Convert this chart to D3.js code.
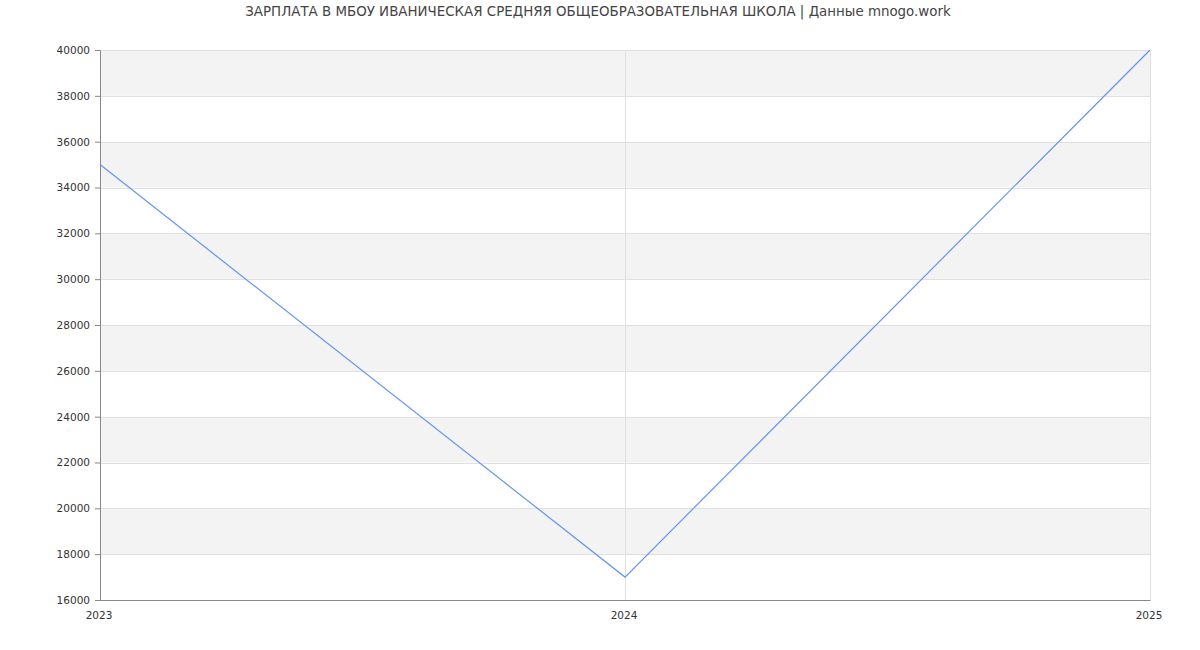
<!DOCTYPE html>
<html><head><meta charset="utf-8">
<script src="https://cdn.jsdelivr.net/npm/d3@7"></script>
<style>body{margin:0;background:#fff;}svg{display:block;font-family:"DejaVu Sans",sans-serif;}</style>
</head><body><svg id="c" width="1200" height="650"></svg>
<script>
const title = "ЗАРПЛАТА В МБОУ ИВАНИЧЕСКАЯ СРЕДНЯЯ ОБЩЕОБРАЗОВАТЕЛЬНАЯ ШКОЛА | Данные mnogo.work";
const years = [2023, 2024, 2025];
const salaries = [35000, 17000, 40000];
const yTicks = [16000,18000,20000,22000,24000,26000,28000,30000,32000,34000,36000,38000,40000];

const svg = d3.select("#c");
const m = {l:100, r:1150, t:50, b:600};
const x = d3.scaleLinear().domain([2023,2025]).range([m.l, m.r]);
const y = d3.scaleLinear().domain([16000,40000]).range([m.b, m.t]);

// bands
for (let i = 0; i < yTicks.length - 1; i++) {
  const lo = yTicks[i], hi = yTicks[i+1];
  const idxFromTop = yTicks.length - 2 - i;
  svg.append("rect").attr("x", m.l).attr("width", m.r - m.l)
    .attr("y", y(hi)).attr("height", y(lo) - y(hi))
    .attr("fill", idxFromTop % 2 === 0 ? "#f3f3f3" : "#ffffff");
}
// horizontal grid
svg.append("g").selectAll("line").data(yTicks).join("line")
  .attr("x1", m.l).attr("x2", m.r).attr("y1", d => Math.round(y(d)) + 0.5).attr("y2", d => Math.round(y(d)) + 0.5)
  .attr("stroke", "#e0e0e0").attr("stroke-width", 1);
// vertical grid
svg.append("g").selectAll("line").data(years.slice(1)).join("line")
  .attr("x1", d => Math.round(x(d)) + 0.5).attr("x2", d => Math.round(x(d)) + 0.5)
  .attr("y1", m.t).attr("y2", m.b).attr("stroke", "#e0e0e0");

// y axis
const yAxis = d3.axisLeft(y).tickValues(yTicks).tickSize(5).tickPadding(5).tickFormat(d3.format("d"));
const gy = svg.append("g").attr("transform", `translate(${m.l},0)`).call(yAxis);
gy.select(".domain").attr("stroke", "#888");
gy.selectAll(".tick line").attr("stroke", "#888");
gy.selectAll("text").attr("fill", "#333").style("font-size", "10.5px").style("font-family", "DejaVu Sans, sans-serif");

// x axis
const xAxis = d3.axisBottom(x).tickValues(years).tickSize(0).tickPadding(12).tickFormat(d3.format("d"));
const gx = svg.append("g").attr("transform", `translate(0,${m.b})`).call(xAxis);
gx.select(".domain").attr("stroke", "#888");
gx.selectAll("text").attr("fill", "#333").attr("dx", "-1.5").style("font-size", "10.5px").style("font-family", "DejaVu Sans, sans-serif");

// line
const line = d3.line().x((d,i) => x(years[i])).y(d => y(d));
svg.append("path").datum(salaries).attr("d", line)
  .attr("fill", "none").attr("stroke", "#6495ed").attr("stroke-width", 1.2);

// title
svg.append("text").attr("x", 598).attr("y", 16).attr("text-anchor", "middle")
  .attr("fill", "#444").style("font-size", "13.4px").text(title);
</script></body></html>
